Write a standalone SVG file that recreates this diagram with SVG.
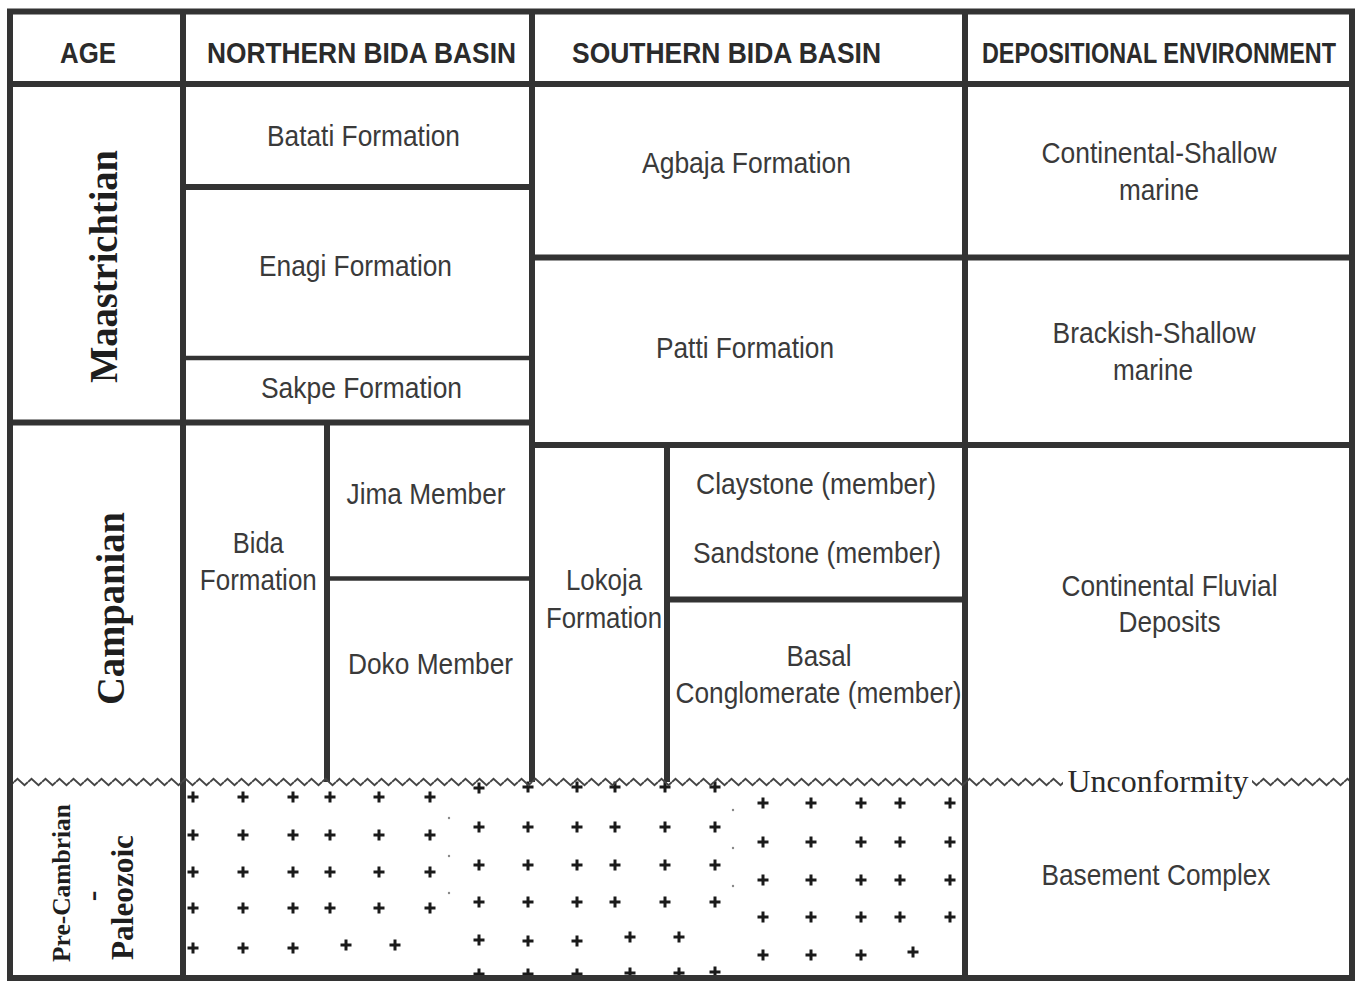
<svg xmlns="http://www.w3.org/2000/svg" xmlns:xlink="http://www.w3.org/1999/xlink" width="1356" height="982" viewBox="0 0 1356 982">
<style>
.hd{font-family:"Liberation Sans",Arial,sans-serif;font-weight:bold;font-size:29px;fill:#2b2b2b;text-anchor:middle}
.tx{font-family:"Liberation Sans",Arial,sans-serif;font-size:30px;fill:#3a3a3a;text-anchor:middle}
.age{font-family:"Liberation Serif","Times New Roman",serif;font-weight:bold;fill:#1e1e1e;text-anchor:middle}
.unc{font-family:"Liberation Serif","Times New Roman",serif;font-size:32px;fill:#2a2a2a;text-anchor:middle}
.ln{stroke:#333;stroke-width:6;fill:none}
.thin{stroke:#333;stroke-width:4.5;fill:none}
.pl{stroke:#1a1a1a;stroke-width:3;fill:none}
.dot{fill:#888}
</style>
<defs>
<path id="p" class="pl" d="M-5.5,0H5.5M0,-5.5V5.5"/>
<pattern id="zz" patternUnits="userSpaceOnUse" x="0" y="777" width="14" height="10">
<path d="M0,5 L3.5,1.8 L10.5,8.2 L14,5" stroke="#444" stroke-width="1.9" fill="none"/>
</pattern>
</defs>
<rect x="0" y="0" width="1356" height="982" fill="#fff"/>

<g id="basement-pattern">
<g id="groupA">
<use xlink:href="#p" x="193" y="797"/><use xlink:href="#p" x="243" y="797"/><use xlink:href="#p" x="293" y="797"/><use xlink:href="#p" x="330" y="797"/><use xlink:href="#p" x="379" y="797"/><use xlink:href="#p" x="430" y="797"/>
<use xlink:href="#p" x="193" y="835"/><use xlink:href="#p" x="243" y="835"/><use xlink:href="#p" x="293" y="835"/><use xlink:href="#p" x="330" y="835"/><use xlink:href="#p" x="379" y="835"/><use xlink:href="#p" x="430" y="835"/>
<use xlink:href="#p" x="193" y="872"/><use xlink:href="#p" x="243" y="872"/><use xlink:href="#p" x="293" y="872"/><use xlink:href="#p" x="330" y="872"/><use xlink:href="#p" x="379" y="872"/><use xlink:href="#p" x="430" y="872"/>
<use xlink:href="#p" x="193" y="908"/><use xlink:href="#p" x="243" y="908"/><use xlink:href="#p" x="293" y="908"/><use xlink:href="#p" x="330" y="908"/><use xlink:href="#p" x="379" y="908"/><use xlink:href="#p" x="430" y="908"/>
<use xlink:href="#p" x="193" y="948"/><use xlink:href="#p" x="243" y="948"/><use xlink:href="#p" x="293" y="948"/><use xlink:href="#p" x="346" y="945"/><use xlink:href="#p" x="395" y="945"/>
</g>
<g id="groupB">
<use xlink:href="#p" x="479" y="788"/><use xlink:href="#p" x="528" y="787"/><use xlink:href="#p" x="577" y="787"/><use xlink:href="#p" x="615" y="787"/><use xlink:href="#p" x="665" y="787"/><use xlink:href="#p" x="715" y="787"/>
<use xlink:href="#p" x="479" y="827"/><use xlink:href="#p" x="528" y="827"/><use xlink:href="#p" x="577" y="827"/><use xlink:href="#p" x="615" y="827"/><use xlink:href="#p" x="665" y="827"/><use xlink:href="#p" x="715" y="827"/>
<use xlink:href="#p" x="479" y="865"/><use xlink:href="#p" x="528" y="865"/><use xlink:href="#p" x="577" y="865"/><use xlink:href="#p" x="615" y="865"/><use xlink:href="#p" x="665" y="865"/><use xlink:href="#p" x="715" y="865"/>
<use xlink:href="#p" x="479" y="902"/><use xlink:href="#p" x="528" y="902"/><use xlink:href="#p" x="577" y="902"/><use xlink:href="#p" x="615" y="902"/><use xlink:href="#p" x="665" y="902"/><use xlink:href="#p" x="715" y="902"/>
<use xlink:href="#p" x="479" y="940"/><use xlink:href="#p" x="528" y="941"/><use xlink:href="#p" x="577" y="941"/><use xlink:href="#p" x="630" y="937"/><use xlink:href="#p" x="679" y="937"/>
<use xlink:href="#p" x="479" y="974"/><use xlink:href="#p" x="528" y="974"/><use xlink:href="#p" x="577" y="974"/><use xlink:href="#p" x="630" y="973"/><use xlink:href="#p" x="679" y="973"/><use xlink:href="#p" x="715" y="972"/>
</g>
<g id="groupC">
<use xlink:href="#p" x="763" y="803"/><use xlink:href="#p" x="811" y="803"/><use xlink:href="#p" x="861" y="803"/><use xlink:href="#p" x="900" y="803"/><use xlink:href="#p" x="950" y="803"/>
<use xlink:href="#p" x="763" y="842"/><use xlink:href="#p" x="811" y="842"/><use xlink:href="#p" x="861" y="842"/><use xlink:href="#p" x="900" y="842"/><use xlink:href="#p" x="950" y="842"/>
<use xlink:href="#p" x="763" y="880"/><use xlink:href="#p" x="811" y="880"/><use xlink:href="#p" x="861" y="880"/><use xlink:href="#p" x="900" y="880"/><use xlink:href="#p" x="950" y="880"/>
<use xlink:href="#p" x="763" y="917"/><use xlink:href="#p" x="811" y="917"/><use xlink:href="#p" x="861" y="917"/><use xlink:href="#p" x="900" y="917"/><use xlink:href="#p" x="950" y="917"/>
<use xlink:href="#p" x="763" y="955"/><use xlink:href="#p" x="811" y="955"/><use xlink:href="#p" x="861" y="955"/><use xlink:href="#p" x="913" y="952"/>
</g>
<circle class="dot" cx="449" cy="818" r="1.2"/><circle class="dot" cx="449" cy="856" r="1.2"/><circle class="dot" cx="449" cy="893" r="1.2"/>
<circle class="dot" cx="733" cy="810" r="1.2"/><circle class="dot" cx="733" cy="848" r="1.2"/><circle class="dot" cx="733" cy="886" r="1.2"/>
</g>

<g id="connectors">
<rect class="ln" x="10" y="11.5" width="1342" height="966.5"/>
<line class="ln" x1="10" y1="84" x2="1352" y2="84"/>
<line class="ln" x1="183" y1="11" x2="183" y2="978"/>
<line class="ln" x1="532" y1="11" x2="532" y2="782"/>
<line class="ln" x1="965" y1="11" x2="965" y2="978"/>
<line class="ln" x1="10" y1="422.5" x2="532" y2="422.5"/>
<line class="ln" x1="183" y1="187" x2="532" y2="187"/>
<line class="thin" x1="183" y1="358" x2="532" y2="358"/>
<line class="ln" x1="532" y1="257.5" x2="1352" y2="257.5"/>
<line class="ln" x1="532" y1="445" x2="1352" y2="445"/>
<line class="ln" x1="327" y1="422" x2="327" y2="782"/>
<line class="thin" x1="327" y1="578.5" x2="532" y2="578.5"/>
<line class="ln" x1="667" y1="445" x2="667" y2="782"/>
<line class="ln" x1="667" y1="599.5" x2="965" y2="599.5"/>
</g>

<g id="unconformity">
<rect x="13" y="777" width="952" height="10" fill="url(#zz)"/>
<rect x="965" y="777" width="98" height="10" fill="url(#zz)"/>
<rect x="1252" y="777" width="97" height="10" fill="url(#zz)"/>
<text class="unc" x="1158" y="792" textLength="181" lengthAdjust="spacingAndGlyphs">Unconformity</text>
</g>

<g id="header">
<text class="hd" x="88" y="63" textLength="56" lengthAdjust="spacingAndGlyphs">AGE</text>
<text class="hd" x="361.5" y="63" textLength="309" lengthAdjust="spacingAndGlyphs">NORTHERN BIDA BASIN</text>
<text class="hd" x="726.5" y="63" textLength="309" lengthAdjust="spacingAndGlyphs">SOUTHERN BIDA BASIN</text>
<text class="hd" x="1159" y="63" textLength="354" lengthAdjust="spacingAndGlyphs">DEPOSITIONAL ENVIRONMENT</text>
</g>

<g id="age-maastrichtian">
<text class="age" font-size="39" transform="translate(117,266.5) rotate(-90)" textLength="233" lengthAdjust="spacingAndGlyphs">Maastrichtian</text>
</g>
<g id="age-campanian">
<text class="age" font-size="39" transform="translate(124,608.5) rotate(-90)" textLength="193" lengthAdjust="spacingAndGlyphs">Campanian</text>
</g>
<g id="age-precambrian-paleozoic">
<text class="age" font-size="26" transform="translate(70,883) rotate(-90)" textLength="158" lengthAdjust="spacingAndGlyphs">Pre-Cambrian</text>
<text class="age" font-size="32" transform="translate(102,896) rotate(-90)">-</text>
<text class="age" font-size="32" transform="translate(133,897.5) rotate(-90)" textLength="125" lengthAdjust="spacingAndGlyphs">Paleozoic</text>
</g>

<g id="batati"><text class="tx" x="363.5" y="146" textLength="193" lengthAdjust="spacingAndGlyphs">Batati Formation</text></g>
<g id="enagi"><text class="tx" x="355.5" y="276" textLength="193" lengthAdjust="spacingAndGlyphs">Enagi Formation</text></g>
<g id="sakpe"><text class="tx" x="361.5" y="398" textLength="201" lengthAdjust="spacingAndGlyphs">Sakpe Formation</text></g>
<g id="bida">
<text class="tx" x="258.3" y="553" textLength="51" lengthAdjust="spacingAndGlyphs">Bida</text>
<text class="tx" x="258.3" y="590" textLength="117" lengthAdjust="spacingAndGlyphs">Formation</text>
</g>
<g id="jima"><text class="tx" x="426" y="504" textLength="159" lengthAdjust="spacingAndGlyphs">Jima Member</text></g>
<g id="doko"><text class="tx" x="430.5" y="674" textLength="165" lengthAdjust="spacingAndGlyphs">Doko Member</text></g>

<g id="agbaja"><text class="tx" x="746.5" y="173" textLength="209" lengthAdjust="spacingAndGlyphs">Agbaja Formation</text></g>
<g id="patti"><text class="tx" x="745" y="358" textLength="178" lengthAdjust="spacingAndGlyphs">Patti Formation</text></g>
<g id="lokoja">
<text class="tx" x="604" y="590" textLength="76" lengthAdjust="spacingAndGlyphs">Lokoja</text>
<text class="tx" x="604" y="628" textLength="116" lengthAdjust="spacingAndGlyphs">Formation</text>
</g>
<g id="claystone"><text class="tx" x="816" y="494" textLength="240" lengthAdjust="spacingAndGlyphs">Claystone (member)</text></g>
<g id="sandstone"><text class="tx" x="817" y="563" textLength="248" lengthAdjust="spacingAndGlyphs">Sandstone (member)</text></g>
<g id="basal">
<text class="tx" x="819" y="666" textLength="65" lengthAdjust="spacingAndGlyphs">Basal</text>
<text class="tx" x="818.5" y="703" textLength="286" lengthAdjust="spacingAndGlyphs">Conglomerate (member)</text>
</g>

<g id="env-continental-shallow">
<text class="tx" x="1159" y="163" textLength="235" lengthAdjust="spacingAndGlyphs">Continental-Shallow</text>
<text class="tx" x="1159" y="200" textLength="80" lengthAdjust="spacingAndGlyphs">marine</text>
</g>
<g id="env-brackish-shallow">
<text class="tx" x="1154" y="343" textLength="203" lengthAdjust="spacingAndGlyphs">Brackish-Shallow</text>
<text class="tx" x="1153" y="380" textLength="80" lengthAdjust="spacingAndGlyphs">marine</text>
</g>
<g id="env-continental-fluvial">
<text class="tx" x="1169.5" y="596" textLength="216" lengthAdjust="spacingAndGlyphs">Continental Fluvial</text>
<text class="tx" x="1169.5" y="632" textLength="102" lengthAdjust="spacingAndGlyphs">Deposits</text>
</g>
<g id="env-basement">
<text class="tx" x="1156" y="885" textLength="229" lengthAdjust="spacingAndGlyphs">Basement Complex</text>
</g>
</svg>
